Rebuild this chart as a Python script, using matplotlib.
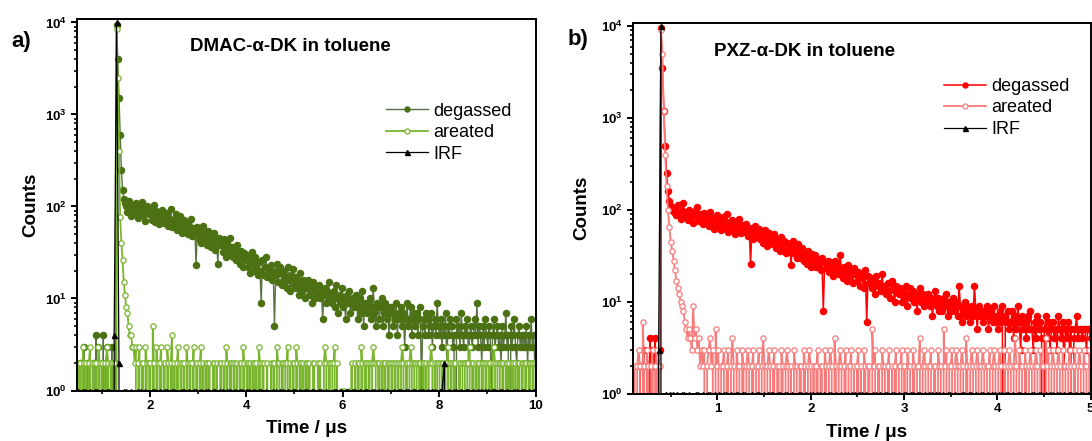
import numpy as np
import matplotlib
matplotlib.use("Agg")
import matplotlib.pyplot as plt
from matplotlib.ticker import LogLocator, NullFormatter

plt.rcParams['font.family'] = 'Liberation Sans'
plt.rcParams['mathtext.fontset'] = 'custom'
plt.rcParams['mathtext.rm'] = 'Liberation Sans'
plt.rcParams['mathtext.bf'] = 'Liberation Sans:bold'

labels = ["degassed", "areated", "IRF"]
titles = ["DMAC-\u03b1-DK in toluene", "PXZ-\u03b1-DK in toluene"]
panel_tags = ["a)", "b)"]

# TCSPC channels: first time (us) and channel width (us)
t0_a, dt_a = 0.51, 0.025        # sample decays, panel a
t0_irf_a, dt_irf_a = 0.51, 0.05  # IRF, panel a
t0_b, dt_b = 0.095, 0.015       # sample decays, panel b
t0_irf_b, dt_irf_b = 0.095, 0.025

# panel a counts (DMAC-a-DK)
degassed_a = [
    0, 0, 2, 0, 0, 3, 0, 0, 2, 0,
    0, 0, 0, 2, 0, 4, 0, 3, 0, 0,
    0, 4, 0, 2, 3, 0, 0, 0, 3, 0,
    0, 2, 9500, 4000, 1500, 600, 250, 150, 120, 110,
    100, 88, 115, 92, 78, 105, 96, 84, 110, 90,
    75, 98, 86, 112, 80, 94, 70, 102, 88, 82,
    96, 72, 85, 104, 68, 90, 78, 64, 88, 76,
    92, 66, 80, 70, 86, 62, 74, 95, 60, 72,
    66, 82, 56, 70, 62, 78, 52, 64, 72, 58,
    68, 50, 62, 56, 74, 48, 58, 52, 23, 60,
    44, 56, 40, 52, 62, 42, 48, 38, 54, 46,
    36, 48, 42, 52, 34, 44, 24, 46, 38, 40,
    32, 44, 36, 28, 40, 34, 46, 30, 36, 28,
    34, 26, 38, 30, 24, 33, 28, 22, 31, 26,
    30, 22, 27, 19, 32, 24, 20, 28, 23, 18,
    25, 20, 9, 26, 18, 22, 28, 17, 21, 19,
    23, 16, 20, 5, 18, 24, 15, 19, 22, 14,
    20, 15, 17, 13, 22, 16, 12, 18, 21, 14,
    17, 13, 15, 11, 19, 14, 12, 16, 10, 15,
    13, 16, 11, 14, 9, 15, 12, 10, 13, 11,
    14, 10, 12, 6, 11, 13, 9, 12, 15, 10,
    11, 9, 12, 8, 14, 10, 7, 11, 9, 13,
    8, 10, 6, 11, 9, 12, 7, 9, 10, 8,
    9, 11, 6, 8, 10, 7, 12, 5, 9, 8,
    7, 9, 10, 6, 8, 13, 7, 5, 9, 8,
    6, 8, 10, 5, 7, 9, 6, 8, 4, 7,
    8, 5, 7, 6, 9, 4, 7, 6, 8, 5,
    7, 3, 6, 9, 5, 6, 8, 4, 6, 7,
    5, 7, 4, 6, 8, 1, 5, 6, 4, 7,
    6, 4, 5, 7, 3, 5, 6, 4, 9, 5,
    4, 6, 3, 5, 4, 7, 2, 5, 4, 6,
    5, 3, 4, 0, 6, 4, 5, 3, 7, 4,
    3, 5, 4, 6, 2, 4, 5, 3, 4, 6,
    4, 9, 3, 5, 4, 2, 5, 3, 6, 4,
    3, 5, 4, 1, 4, 6, 3, 4, 5, 3,
    4, 2, 5, 3, 4, 7, 3, 4, 0, 5,
    3, 4, 6, 3, 2, 4, 5, 3, 4, 3,
    4, 3, 5, 2, 4, 3, 6, 3, 4, 2,
    4]
areated_a = [
    2, 0, 2, 0, 3, 2, 0, 2, 0, 2,
    3, 0, 2, 2, 0, 2, 0, 3, 2, 0,
    2, 0, 2, 0, 3, 2, 0, 2, 2, 0,
    2, 0, 8500, 2500, 400, 76, 40, 26, 15, 11,
    8, 7, 5, 4, 4, 3, 3, 2, 3, 0,
    2, 3, 0, 2, 2, 0, 3, 2, 0, 2,
    2, 0, 5, 2, 0, 3, 2, 0, 2, 3,
    0, 2, 2, 0, 3, 2, 0, 2, 4, 0,
    2, 0, 2, 3, 0, 2, 2, 0, 2, 0,
    3, 2, 0, 2, 0, 2, 3, 0, 2, 2,
    0, 2, 3, 0, 2, 0, 2, 2, 0, 2,
    0, 0, 2, 2, 0, 2, 0, 0, 2, 2,
    0, 2, 0, 3, 2, 0, 2, 2, 0, 2,
    2, 0, 2, 0, 2, 2, 0, 3, 2, 0,
    2, 2, 0, 2, 0, 2, 2, 0, 2, 0,
    3, 2, 0, 2, 2, 0, 0, 2, 0, 0,
    2, 0, 2, 2, 0, 3, 2, 2, 0, 2,
    2, 0, 2, 2, 3, 0, 2, 0, 2, 2,
    0, 3, 2, 0, 2, 2, 0, 2, 0, 2,
    2, 0, 2, 0, 0, 2, 2, 0, 0, 2,
    0, 2, 0, 0, 2, 3, 2, 0, 2, 2,
    0, 2, 2, 3, 0, 2, 0, 0, 1, 0,
    0, 1, 0, 0, 0, 1, 0, 2, 0, 0,
    2, 0, 2, 2, 0, 3, 2, 0, 2, 2,
    0, 2, 2, 0, 2, 3, 2, 2, 0, 2,
    2, 0, 2, 0, 2, 2, 0, 2, 2, 0,
    2, 2, 0, 2, 0, 2, 2, 0, 2, 3,
    2, 0, 2, 2, 0, 2, 3, 2, 0, 2,
    2, 2, 0, 2, 2, 0, 2, 2, 0, 2,
    0, 2, 2, 3, 2, 0, 2, 0, 2, 2,
    2, 0, 2, 2, 0, 2, 2, 3, 0, 2,
    2, 0, 2, 2, 0, 0, 2, 2, 0, 2,
    2, 2, 0, 2, 2, 3, 0, 2, 2, 0,
    2, 0, 2, 2, 0, 2, 2, 0, 2, 2,
    0, 2, 2, 0, 2, 3, 2, 0, 2, 2,
    2, 0, 2, 2, 0, 2, 2, 0, 2, 0,
    2, 2, 0, 2, 0, 2, 2, 0, 2, 2,
    0, 2, 2, 0, 2, 2, 0, 2, 2, 0,
    2]
irf_a = [
    1, 0, 1, 1, 0, 1, 0, 1, 1, 0,
    1, 0, 1, 1, 0, 4, 10000, 2, 0, 1,
    1, 0, 1, 0, 0, 1, 1, 0, 1, 0,
    0, 1, 1, 0, 1, 0, 1, 1, 0, 1,
    1, 0, 0, 1, 1, 0, 1, 0, 1, 1,
    0, 1, 0, 1, 1, 0, 1, 1, 0, 1,
    1, 0, 1, 1, 0, 1, 0, 1, 1, 0,
    1, 1, 0, 1, 0, 1, 1, 0, 1, 0,
    0, 1, 1, 0, 1, 1, 0, 1, 0, 1,
    1, 0, 1, 0, 1, 1, 0, 1, 1, 0,
    1, 1, 0, 1, 0, 0, 1, 1, 0, 1,
    0, 1, 1, 0, 1, 1, 0, 1, 0, 1,
    1, 0, 1, 1, 0, 1, 1, 0, 1, 0,
    0, 1, 0, 1, 1, 0, 1, 1, 0, 1,
    1, 0, 1, 1, 0, 1, 0, 1, 1, 0,
    1, 1, 2, 0, 1, 0, 1, 1, 0, 1,
    0, 1, 1, 0, 1, 0, 1, 1, 0, 1,
    1, 0, 1, 1, 0, 1, 1, 0, 1, 0,
    0, 1, 1, 0, 1, 1, 0, 1, 0, 1,
    1]

# panel b counts (PXZ-a-DK)
degassed_b = [
    0, 0, 0, 0, 0, 2, 0, 0, 3, 0,
    2, 0, 4, 0, 3, 2, 4, 0, 2, 3,
    9500, 3500, 1200, 500, 250, 160, 125, 110, 100, 95,
    105, 88, 112, 92, 80, 98, 120, 86, 94, 78,
    100, 84, 92, 72, 96, 86, 108, 76, 90, 82,
    70, 92, 78, 86, 66, 95, 74, 82, 62, 80,
    88, 68, 76, 60, 84, 70, 64, 90, 58, 74,
    62, 78, 66, 54, 72, 60, 80, 56, 68, 64,
    58, 70, 52, 64, 26, 60, 48, 66, 56, 50,
    62, 48, 54, 44, 60, 50, 40, 56, 46, 52,
    42, 54, 38, 48, 44, 36, 50, 40, 46, 34,
    44, 36, 40, 25, 46, 34, 38, 30, 42, 35,
    30, 38, 28, 34, 26, 36, 31, 24, 33, 28,
    32, 24, 29, 26, 22, 30, 8, 27, 23, 28,
    21, 27, 24, 19, 28, 22, 25, 20, 32, 23,
    18, 24, 21, 17, 25, 19, 22, 16, 23, 20,
    17, 21, 15, 20, 18, 14, 22, 6, 19, 16,
    18, 14, 17, 12, 19, 15, 16, 13, 20, 14,
    15, 12, 16, 13, 11, 17, 14, 10, 15, 13,
    12, 14, 10, 13, 11, 15, 9, 12, 14, 11,
    13, 10, 12, 8, 11, 14, 10, 12, 9, 11,
    10, 12, 9, 11, 7, 10, 13, 9, 11, 8,
    10, 8, 11, 9, 12, 7, 10, 8, 9, 11,
    8, 10, 7, 15, 9, 6, 8, 10, 7, 9,
    8, 6, 9, 7, 15, 8, 5, 9, 7, 8,
    6, 8, 7, 9, 5, 7, 8, 6, 9, 6,
    7, 5, 8, 6, 9, 0, 7, 6, 8, 5,
    6, 8, 4, 7, 5, 9, 6, 3, 7, 5,
    6, 4, 7, 5, 8, 5, 3, 6, 4, 7,
    5, 6, 4, 0, 5, 7, 4, 6, 3, 5,
    6, 4, 5, 3, 7, 5, 4, 6, 2, 5,
    4, 6, 3, 5, 0, 4, 5, 7, 4, 5,
    5, 4, 5, 5, 3, 5, 5, 4, 5]
areated_b = [
    0, 2, 0, 2, 3, 2, 0, 6, 2, 0,
    3, 2, 0, 2, 3, 0, 2, 3, 0, 2,
    9000, 5000, 1200, 400, 180, 100, 65, 45, 36, 28,
    22, 17, 14, 12, 10, 9, 8, 6, 5, 4,
    5, 4, 3, 9, 4, 5, 3, 4, 2, 3,
    2, 3, 0, 2, 3, 4, 2, 3, 0, 5,
    2, 3, 0, 2, 2, 3, 0, 2, 3, 0,
    2, 4, 2, 0, 3, 2, 2, 0, 3, 2,
    0, 2, 3, 2, 0, 2, 3, 0, 2, 2,
    3, 0, 2, 4, 2, 0, 2, 3, 2, 0,
    2, 3, 0, 2, 2, 0, 3, 2, 0, 2,
    3, 2, 0, 2, 0, 3, 2, 2, 0, 2,
    2, 0, 3, 2, 0, 2, 3, 2, 0, 2,
    0, 2, 3, 0, 2, 2, 0, 3, 2, 0,
    2, 3, 2, 0, 4, 2, 0, 2, 3, 2,
    0, 2, 3, 0, 2, 2, 3, 0, 2, 0,
    2, 3, 0, 2, 0, 3, 2, 0, 2, 2,
    0, 5, 2, 3, 0, 2, 2, 0, 3, 2,
    2, 0, 2, 3, 0, 2, 0, 2, 3, 0,
    2, 2, 3, 0, 2, 0, 3, 2, 2, 0,
    3, 2, 0, 2, 2, 4, 0, 2, 3, 2,
    0, 2, 2, 3, 0, 2, 2, 0, 3, 2,
    2, 0, 5, 2, 3, 0, 2, 2, 3, 0,
    2, 3, 2, 0, 2, 3, 2, 0, 4, 2,
    0, 2, 3, 2, 0, 2, 3, 2, 0, 2,
    3, 2, 0, 2, 2, 3, 0, 2, 3, 2,
    0, 2, 3, 2, 0, 3, 2, 0, 2, 3,
    2, 0, 2, 4, 2, 0, 3, 2, 2, 0,
    3, 2, 0, 2, 3, 2, 0, 2, 3, 2,
    0, 3, 2, 2, 0, 4, 2, 3, 0, 2,
    3, 2, 0, 2, 3, 2, 0, 3, 2, 2,
    0, 2, 3, 2, 0, 2, 3, 0, 2, 3,
    2, 0, 3, 2, 2, 0, 3, 2, 2]
irf_b = [
    0, 0, 0, 0, 0, 0, 0, 0, 0, 0,
    0, 3, 10000, 0, 1, 0, 1, 1, 0, 1,
    0, 1, 1, 0, 1, 0, 0, 1, 1, 0,
    1, 0, 1, 1, 0, 1, 0, 1, 0, 1,
    1, 0, 1, 0, 1, 1, 0, 1, 1, 0,
    0, 1, 0, 1, 1, 0, 1, 0, 1, 1,
    1, 0, 1, 1, 0, 1, 1, 0, 1, 0,
    0, 1, 1, 0, 1, 0, 1, 1, 0, 1,
    1, 0, 1, 0, 1, 1, 0, 1, 0, 1,
    0, 1, 1, 0, 1, 1, 0, 1, 1, 0,
    1, 0, 0, 1, 1, 0, 1, 0, 1, 1,
    0, 1, 1, 0, 1, 0, 1, 1, 0, 1,
    1, 0, 1, 1, 0, 1, 0, 1, 1, 0,
    1, 1, 0, 1, 0, 1, 1, 0, 1, 0,
    0, 1, 1, 0, 1, 1, 0, 1, 0, 1,
    1, 0, 1, 0, 1, 1, 0, 1, 1, 0,
    1, 1, 0, 1, 0, 1, 1, 0, 1, 0,
    0, 1, 1, 0, 1, 1, 0, 1, 0, 1,
    1, 0, 1, 1, 0, 1, 0, 1, 1, 0,
    1, 0, 1, 1, 0, 1, 0, 1]

W, H = 1092, 441
fig = plt.figure(figsize=(W / 100, H / 100), dpi=100)
ax_a = fig.add_axes([76.7 / W, (H - 390.5) / H, 458.8 / W, 371.5 / H])
ax_b = fig.add_axes([632.7 / W, (H - 393.5) / H, 457.9 / W, 370.8 / H])


def draw_panel(ax, series, styles):
    for (t0, dt, y), lab, st in zip(series, labels, styles):
        y = np.asarray(y, dtype=float)
        t = t0 + dt * np.arange(len(y))
        ax.plot(t, y, label=lab, **st)


def style_axes(ax, xlim, xmajor, xminor):
    ax.set_yscale('log', nonpositive='clip')
    ax.set_xlim(*xlim)
    ax.set_ylim(1, 10 ** 4.038)
    ax.set_yticks([1, 10, 100, 1000, 10000])
    ax.set_yticklabels([r'$\mathbf{10^{%d}}$' % k for k in range(5)])
    ax.yaxis.set_minor_locator(LogLocator(base=10, subs=np.arange(2, 10)))
    ax.yaxis.set_minor_formatter(NullFormatter())
    ax.set_xticks(xmajor)
    ax.set_xticks(xminor, minor=True)
    ax.set_xticklabels([str(v) for v in xmajor])
    ax.tick_params(which='major', direction='out', length=4.5, width=1.4,
                   labelsize=9.5, pad=2.5)
    ax.tick_params(which='minor', direction='out', length=2.5, width=1.2)
    for lbl in ax.get_xticklabels():
        lbl.set_fontweight('bold')
    for sp in ax.spines.values():
        sp.set_linewidth(1.4)
        sp.set_zorder(5)


green_styles = [
    dict(color='#587244', lw=1.0, marker='o', ms=4.4, mfc='#4b7113', mec='#4b7113', zorder=2),
    dict(color='#79b52c', lw=1.3, marker='o', ms=3.8, mfc='white', mec='#79b52c', mew=0.9, zorder=3),
    dict(color='black', lw=0.9, marker='^', ms=3.6, mfc='black', mec='black', zorder=4),
]
red_styles = [
    dict(color='#ff0000', lw=1.1, marker='o', ms=4.4, mfc='#ff0000', mec='#ff0000', zorder=2),
    dict(color='#f77b7b', lw=1.3, marker='o', ms=3.8, mfc='white', mec='#f77b7b', mew=0.9, zorder=3),
    dict(color='black', lw=0.9, marker='^', ms=3.6, mfc='black', mec='black', zorder=4),
]

draw_panel(ax_a, [(t0_a, dt_a, degassed_a), (t0_a, dt_a, areated_a),
                  (t0_irf_a, dt_irf_a, irf_a)], green_styles)
draw_panel(ax_b, [(t0_b, dt_b, degassed_b), (t0_b, dt_b, areated_b),
                  (t0_irf_b, dt_irf_b, irf_b)], red_styles)

style_axes(ax_a, (0.483, 10), [2, 4, 6, 8, 10], [1, 3, 5, 7, 9])
style_axes(ax_b, (0.092, 5.0), [1, 2, 3, 4, 5], [0.5, 1.5, 2.5, 3.5, 4.5])

for ax, title, tx, ty, lx, ly, xl, yl in [
        (ax_a, titles[0], 0.247, 0.925, 0.675, 0.775, (0.5, -0.101), (-0.0996, 0.5)),
        (ax_b, titles[1], 0.178, 0.922, 0.68, 0.851, (0.51, -0.1065), (-0.1114, 0.5))]:
    ax.text(tx, ty, title, transform=ax.transAxes, fontsize=13.5,
            fontweight='bold', ha='left', va='center')
    leg = ax.legend(loc='upper left', bbox_to_anchor=(lx, ly), frameon=False,
                    fontsize=13, handlelength=2.3, handletextpad=0.3,
                    labelspacing=0.25, borderpad=0, borderaxespad=0)
    for h in leg.legend_handles:
        h.set_markersize(3.6)
    ax.set_xlabel('Time / \u03bcs', fontsize=13.5, fontweight='bold')
    ax.set_ylabel('Counts', fontsize=13.5, fontweight='bold')
    ax.xaxis.label.set_va('center')
    ax.yaxis.label.set_va('center')
    ax.yaxis.label.set_ha('center')
    ax.xaxis.set_label_coords(*xl)
    ax.yaxis.set_label_coords(*yl)

fig.text(21.5 / W, 1 - 41 / H, panel_tags[0], fontsize=16, fontweight='bold',
         ha='center', va='center')
fig.text(578 / W, 1 - 40 / H, panel_tags[1], fontsize=16, fontweight='bold',
         ha='center', va='center')

fig.savefig('out.png', dpi=100)
